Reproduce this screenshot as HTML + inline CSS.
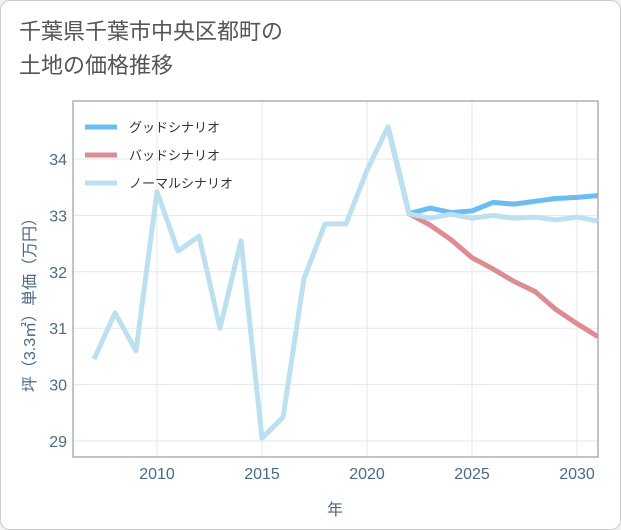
<!DOCTYPE html>
<html><head><meta charset="utf-8"><style>
html,body{margin:0;padding:0;background:#f2f2f2;}
#card{position:absolute;left:0;top:0;width:619px;height:528px;background:#fff;border:1px solid #ccc;border-radius:10px;overflow:hidden;}
#title{position:absolute;left:18px;top:14px;font-family:"Liberation Sans","Noto Sans CJK JP",sans-serif;font-size:22px;line-height:34px;color:#555;}
svg text{font-family:"Liberation Sans","Noto Sans CJK JP",sans-serif;}
</style></head><body>
<div id="card">
<div id="title">千葉県千葉市中央区都町の<br>土地の価格推移</div>
<svg id="chart" width="621" height="530" style="position:absolute;left:0;top:0"></svg>
</div>
<script>
const years=[2007,2008,2009,2010,2011,2012,2013,2014,2015,2016,2017,2018,2019,2020,2021,2022,2023,2024,2025,2026,2027,2028,2029,2030,2031];
const normal=[30.45,31.27,30.6,33.42,32.37,32.63,31.0,32.55,29.05,29.42,31.88,32.85,32.85,33.8,34.57,33.03,32.95,33.02,32.95,33.0,32.95,32.97,32.92,32.97,32.9];
const goodYears=[2021,2022,2023,2024,2025,2026,2027,2028,2029,2030,2031];
const good=[34.57,33.03,33.13,33.05,33.08,33.23,33.2,33.25,33.3,33.32,33.35];
const bad=[34.57,33.03,32.83,32.57,32.25,32.05,31.83,31.65,31.33,31.08,30.85];
const xTicks=[2010,2015,2020,2025,2030];
const yTicks=[29,30,31,32,33,34];
const legendLabels=["グッドシナリオ","バッドシナリオ","ノーマルシナリオ"];
const colors=["#6bbcf0","#dc8c92","#bde0f0"];
const X=y=>156+(y-2010)*21;
const Y=v=>158+(34-v)*56.4;
const svg=document.getElementById('chart');
const NS='http://www.w3.org/2000/svg';
function mk(t,a){const e=document.createElementNS(NS,t);for(const k in a)e.setAttribute(k,a[k]);svg.appendChild(e);return e;}
const L=72,R=597,T=100,B=456;
for(const t of xTicks){const l=mk('line',{x1:X(t),x2:X(t),y1:T,y2:B,stroke:'#e3e8ee'});


const tx=mk('text',{x:X(t),y:B+22,'text-anchor':'middle','font-size':16,fill:'#4a6a85'});tx.textContent=t;

}
for(const t of yTicks){const l=mk('line',{x1:L,x2:R,y1:Y(t),y2:Y(t),stroke:'#e3e8ee'});


const tx=mk('text',{x:L-6,y:Y(t)+6,'text-anchor':'end','font-size':16,fill:'#4a6a85'});tx.textContent=t;

}
const fr=mk('rect',{x:L,y:T,width:R-L,height:B-T,fill:'none',stroke:'#888'});


const xt=mk('text',{x:334,y:514,'text-anchor':'middle','font-size':16,fill:'#4a6a85'});xt.textContent='年';


const yt=mk('text',{x:0,y:0,'text-anchor':'middle','font-size':16,fill:'#4a6a85',transform:'translate(34,300) rotate(-90)'});yt.textContent='坪（3.3㎡）単価（万円）';


const cp=mk('clipPath',{id:'cp'});const cr=document.createElementNS(NS,'rect');cr.setAttribute('x',L);cr.setAttribute('y',T);cr.setAttribute('width',R-L);cr.setAttribute('height',B-T);cp.appendChild(cr);
function line(xs,vs,c,name){const p=mk('polyline',{points:xs.map((y,i)=>X(y)+','+Y(vs[i])).join(' '),fill:'none',stroke:c,'stroke-width':5,'stroke-linejoin':'round','clip-path':'url(#cp)'});

}
line(goodYears,bad,colors[1],'bad-scenario-line');
line(goodYears,good,colors[0],'good-scenario-line');
line(years,normal,colors[2],'normal-scenario-line');
legendLabels.forEach((lb,i)=>{const y=126+i*28;
const l=mk('line',{x1:84,x2:116,y1:y,y2:y,stroke:colors[i],'stroke-width':5});


const t=mk('text',{x:128,y:y+5,'font-size':13,fill:'#333'});t.textContent=lb;

});
</script>
</body></html>
